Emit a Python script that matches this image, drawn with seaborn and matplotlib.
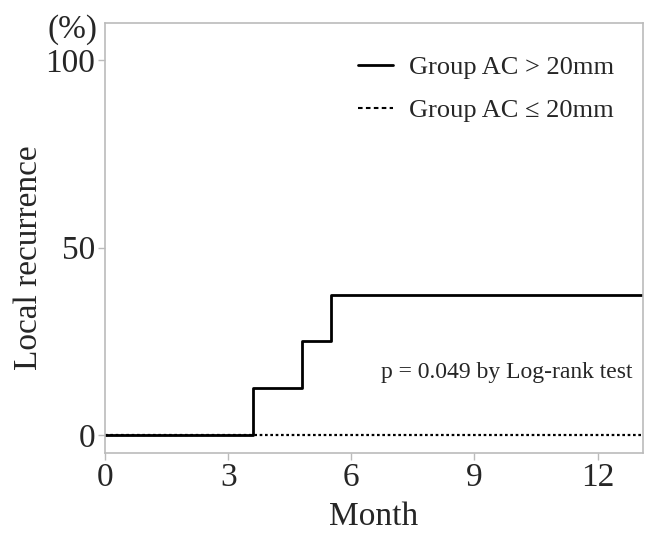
import matplotlib.pyplot as plt
import seaborn as sns
import pandas as pd
from matplotlib.lines import Line2D

# data
t_large = [0, 3.6, 4.8, 5.5, 13.1]
r_large = [0, 12.5, 25, 37.5, 37.5]
t_small = [0, 13.1]
r_small = [0, 0]
labels = ['Group AC > 20mm', 'Group AC \u2264 20mm']
xticks = [0, 3, 6, 9, 12]
yticks = [0, 50, 100]

sns.set_style('white')
plt.rcParams['font.family'] = ['Liberation Serif', 'DejaVu Serif']

df1 = pd.DataFrame({'Month': t_large, 'rec': r_large})
df2 = pd.DataFrame({'Month': t_small, 'rec': r_small})

fig = plt.figure(figsize=(6.48, 5.33), dpi=100)
ax = fig.add_axes([0.162, 0.150, 0.830, 0.807])

sns.lineplot(data=df2, x='Month', y='rec', ax=ax, color='black', linestyle=(0, (1.2, 1.2)),
             linewidth=1.6, drawstyle='steps-post')
sns.lineplot(data=df1, x='Month', y='rec', ax=ax, color='black', linewidth=2,
             drawstyle='steps-post')

ax.set_xlim(0, 13.1)
ax.set_ylim(-4.8, 110)
ax.set_xticks(xticks)
ax.set_yticks(yticks)
ax.tick_params(labelsize=24, length=5, width=1, color='#bbbbbb', direction='out',
               bottom=True, left=True, pad=2)
for s in ax.spines.values():
    s.set_color('#bbbbbb')
    s.set_linewidth(1.2)

ax.set_xlabel('Month', fontsize=24, labelpad=6)
ax.set_ylabel('Local recurrence', fontsize=24)
ax.yaxis.set_label_coords(-0.113, 0.455)
ax.text(-0.013, 0.985, '(%)', transform=ax.transAxes, ha='right', va='center', fontsize=24)
ax.text(12.85, 16.8, 'p = 0.049 by Log-rank test', ha='right', va='center', fontsize=17)

handles = [Line2D([], [], color='black', linewidth=2),
           Line2D([], [], color='black', linewidth=1.5, linestyle=(0, (2.2, 1.6)))]
ax.legend(handles, labels, loc='upper right', frameon=False, fontsize=19,
          handlelength=1.3, handletextpad=0.6, labelspacing=0.75,
          bbox_to_anchor=(0.99, 0.98))

fig.savefig('out.png', dpi=100)
